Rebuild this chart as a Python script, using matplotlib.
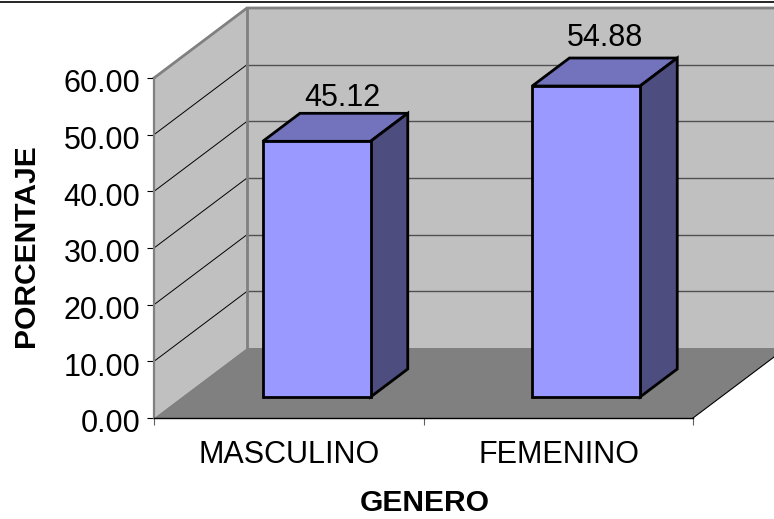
import matplotlib
matplotlib.use('Agg')
import matplotlib.pyplot as plt
from matplotlib.patches import Polygon
from matplotlib.transforms import ScaledTranslation

plt.rcParams['font.family'] = ['Liberation Sans', 'DejaVu Sans']

generos = ['MASCULINO', 'FEMENINO']
porcentajes = [45.12, 54.88]
marcas_y = [0, 10, 20, 30, 40, 50, 60]

W, H = 774, 519
# plano frontal del grafico en pixeles
X0, X1, Y0, Y1 = 154, 693, 418, 78
# desplazamiento de la pared del fondo, en unidades de datos
DX = 93 / ((X1 - X0) / 2)
DY = 70 / ((Y0 - Y1) / 60)
ANCHO = 0.4
# ajuste de cada etiqueta de valor, en puntos
AJUSTE_ETIQUETA = [(-8, 5.5), (-13, 8.5)]


def proy(x, y, z):
    # z = 0 plano frontal, z = 1 pared del fondo
    return (x + z * DX, y + z * DY)


def cara(ax, puntos, color, edge='none', lw=0, zorder=2):
    ax.add_patch(Polygon([proy(*p) for p in puntos], closed=True, facecolor=color,
                         edgecolor=edge, linewidth=lw, zorder=zorder,
                         joinstyle='miter', clip_on=False))


fig = plt.figure(figsize=(W / 100, H / 100), dpi=100)
ax = fig.add_axes([X0 / W, 1 - Y0 / H, (X1 - X0) / W, (Y0 - Y1) / H])
ax.set_xlim(0, 2)
ax.set_ylim(0, 60)
ax.patch.set_visible(False)

for s in ['top', 'right']:
    ax.spines[s].set_visible(False)
ax.spines['left'].set_color('#808080')
ax.spines['left'].set_linewidth(1.6)
ax.spines['left'].set_bounds(0, 60)
ax.spines['bottom'].set_color('black')
ax.spines['bottom'].set_linewidth(1.0)

# paredes y piso
cara(ax, [(0, 0, 0), (0, 0, 1), (0, 60, 1), (0, 60, 0)], '#C0C0C0', zorder=1)
cara(ax, [(0, 0, 1), (2.2, 0, 1), (2.2, 60, 1), (0, 60, 1)], '#C0C0C0', zorder=1)
cara(ax, [(0, 0, 0), (2, 0, 0), (2, 0, 1), (0, 0, 1)], '#808080', zorder=1.2)

# lineas de division
for v in marcas_y[1:]:
    if v < 60:
        ax.plot(*zip(proy(0, v, 0), proy(0, v, 1)), color='black', lw=0.7, zorder=1.1, clip_on=False)
        ax.plot(*zip(proy(0, v, 1), proy(2.2, v, 1)), color='#505050', lw=1.0, zorder=1.1, clip_on=False)
ax.plot(*zip(proy(0, 60, 0), proy(0, 60, 1), proy(2.2, 60, 1)), color='#808080', lw=2,
        zorder=1.3, clip_on=False, solid_joinstyle='miter')
ax.plot(*zip(proy(0, 0, 1), proy(0, 60, 1)), color='#808080', lw=2, zorder=1.3, clip_on=False)
ax.plot(*zip(proy(2, 0, 0), proy(2, 0, 1)), color='black', lw=0.8, zorder=1.3, clip_on=False)

# barras
for i, (g, v) in enumerate(zip(generos, porcentajes)):
    a = i + 0.5 - ANCHO / 2
    b = i + 0.5 + ANCHO / 2
    z0, z1 = 0.3, 0.7
    cara(ax, [(a, v, z0), (b, v, z0), (b, v, z1), (a, v, z1)], '#7373BD', 'black', 2, 3)
    cara(ax, [(b, 0, z0), (b, 0, z1), (b, v, z1), (b, v, z0)], '#4D4D80', 'black', 2, 3)
    cara(ax, [(a, 0, z0), (b, 0, z0), (b, v, z0), (a, v, z0)], '#9999FF', 'black', 2, 4)
    px, py = proy(i + 0.5, v, z1)
    ax.annotate(f'{v:.2f}', (px, py), xytext=AJUSTE_ETIQUETA[i], textcoords='offset points',
                ha='center', va='baseline', fontsize=22, color='black', zorder=5,
                annotation_clip=False)

ax.set_yticks(marcas_y)
ax.set_yticklabels([f'{v:.2f}' for v in marcas_y], fontsize=22)
ax.tick_params(axis='y', length=5, width=0.8, pad=5, color='black')
for t in ax.get_yticklabels():
    t.set_transform(t.get_transform() + ScaledTranslation(0, -2 / 72, fig.dpi_scale_trans))
ax.set_xticks([0, 1, 2])
ax.set_xticklabels(['', '', ''])
ax.tick_params(axis='x', length=5, width=0.8, color='#606060')
for i, g in enumerate(generos):
    ax.annotate(g, (i + 0.5, 0), xytext=(0.5, -16), textcoords='offset points',
                ha='center', va='top', fontsize=22, annotation_clip=False)

fig.text(424.5 / W, 1 - 503 / H, 'GENERO', fontsize=21.6, fontweight='bold', ha='center', va='center')
fig.text(25.5 / W, 1 - 246 / H, 'PORCENTAJE', fontsize=21.6, fontweight='bold', rotation=90,
         ha='center', va='center')

# marco superior
fig.add_artist(plt.Line2D([0, 1], [1 - 1.5 / H, 1 - 1.5 / H], color='black', lw=1.2))

fig.savefig('out.png', dpi=100)
